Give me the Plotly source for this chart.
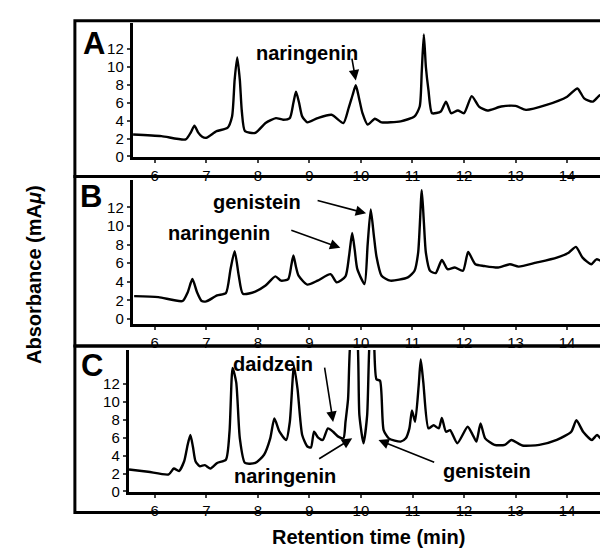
import plotly.graph_objects as go

W, H = 608, 549


def fx(x):
    return x / W


def fy(y):
    return 1 - y / H


# ---------------- data (retention time in min, absorbance in mAu) ----------------
time_a = [5.58, 6.13, 6.6, 6.7, 6.77, 6.84, 6.92, 7.0, 7.2, 7.41, 7.5, 7.55, 7.6, 7.65, 7.69,
          7.75, 7.95, 8.15, 8.35, 8.49, 8.62, 8.69, 8.74, 8.8, 8.86, 8.96, 9.16, 9.43, 9.66,
          9.76, 9.84, 9.9, 9.96, 10.03, 10.13, 10.27, 10.4, 10.77, 11.04, 11.14, 11.18, 11.22,
          11.26, 11.31, 11.38, 11.55, 11.65, 11.75, 11.88, 12.0, 12.15, 12.29, 12.45, 12.72,
          13.0, 13.2, 13.6, 14.0, 14.2, 14.33, 14.5, 14.64, 14.84]
abs_a = [2.46, 2.28, 1.91, 2.7, 3.45, 2.7, 2.2, 2.09, 2.83, 3.19, 4.48, 8.6, 11.08, 8.6, 5.0,
         2.83, 2.64, 3.74, 4.29, 4.11, 4.29, 6.0, 7.23, 6.0, 4.48, 3.82, 4.29, 4.66, 3.74,
         5.39, 6.9, 7.96, 6.6, 4.84, 3.56, 4.22, 3.82, 3.93, 4.48, 5.58, 9.5, 13.65,
         10.0, 7.41, 4.84, 5.03, 6.13, 4.84, 5.14, 4.84, 6.75, 5.58, 5.14, 5.58,
         5.65, 5.21, 5.76, 6.68, 7.6, 6.5, 6.13, 6.86, 6.6]

time_b = [5.6, 6.07, 6.54, 6.64, 6.73, 6.82, 6.91, 7.0, 7.21, 7.38, 7.47, 7.55, 7.63, 7.71,
          7.95, 8.15, 8.34, 8.45, 8.59, 8.65, 8.69, 8.74, 8.79, 8.96, 9.16, 9.41, 9.53, 9.7,
          9.77, 9.83, 9.88, 9.93, 10.07, 10.13, 10.19, 10.25, 10.3, 10.4, 10.57, 10.91, 11.04,
          11.11, 11.18, 11.22, 11.26, 11.34, 11.45, 11.57, 11.68, 11.82, 11.98, 12.08, 12.22,
          12.39, 12.66, 12.89, 13.06, 13.4, 13.8, 14.03, 14.17, 14.3, 14.47, 14.57, 14.77]
abs_b = [2.47, 2.36, 1.94, 2.89, 4.3, 2.89, 1.94, 1.9, 2.54, 2.79, 5.36, 7.3, 4.66, 2.72,
         2.96, 3.6, 4.59, 4.13, 4.3, 5.8, 6.84, 5.6, 4.66, 3.7, 4.13, 4.83, 3.95, 4.59,
         6.8, 9.24, 7.4, 5.36, 3.77, 8.0, 11.78, 9.0, 6.77, 4.66, 4.13, 4.48, 5.19,
         7.13, 13.83, 10.5, 7.13, 5.19, 4.94, 6.35, 5.36, 5.54, 5.19, 7.2, 5.89,
         5.71, 5.54, 5.89, 5.64, 6.06, 6.6, 7.13, 7.76, 6.6, 5.89, 6.42, 5.89]

time_c = [5.5, 5.87, 6.27, 6.37, 6.47, 6.57, 6.63, 6.69, 6.74, 6.79, 6.87, 6.97, 7.08, 7.21,
          7.38, 7.45, 7.51, 7.58, 7.65, 7.75, 7.95, 8.12, 8.24, 8.32, 8.42, 8.55, 8.62, 8.7,
          8.77, 8.86, 8.96, 9.03, 9.09, 9.17, 9.26, 9.36, 9.46, 9.56, 9.66, 9.7, 9.75, 9.8,
          9.87, 9.93, 9.97, 10.05, 10.12, 10.17, 10.21, 10.25, 10.3, 10.37, 10.44, 10.54,
          10.77, 10.87, 10.94, 10.99, 11.05, 11.12, 11.16, 11.21, 11.31, 11.41, 11.51,
          11.57, 11.65, 11.73, 11.87, 12.07, 12.17, 12.24, 12.32, 12.41, 12.59, 12.79,
          12.92, 13.13, 13.46, 13.8, 14.08, 14.18, 14.31, 14.48, 14.58, 14.68, 14.81]
abs_c = [2.46, 2.2, 1.91, 2.57, 2.28, 3.38, 5.0, 6.31, 5.0, 3.38, 2.83, 2.94, 2.57, 3.19,
         3.56, 6.68, 13.8, 12.2, 5.94, 3.19, 3.19, 4.11, 5.94, 8.15, 6.68, 5.76, 7.78, 14.0,
         11.45, 6.31, 5.03, 4.92, 6.68, 6.02, 5.76, 7.05, 6.68, 6.13, 5.94, 7.78, 10.35, 17.0,
         18.0, 17.0, 8.5, 5.39, 8.5, 17.0, 18.0, 17.0, 12.55, 12.37, 6.86, 5.94,
         5.58, 5.94, 7.05, 9.06, 7.78, 11.82, 14.75, 12.2, 7.05, 7.41, 7.05,
         8.22, 6.68, 6.86, 5.39, 7.23, 6.31, 5.58, 7.6, 5.94, 5.21, 5.21,
         5.76, 5.14, 5.21, 5.76, 6.68, 7.96, 6.68, 5.76, 6.31, 5.76, 5.58]

y_ticks = [0, 2, 4, 6, 8, 10, 12]
x_ticks = [6, 7, 8, 9, 10, 11, 12, 13, 14]
panel_letters = ["A", "B", "C"]

FONT = "Arial, Liberation Sans, sans-serif"

fig = go.Figure()
for i, (t, a) in enumerate([(time_a, abs_a), (time_b, abs_b), (time_c, abs_c)]):
    sfx = "" if i == 0 else str(i + 1)
    fig.add_trace(go.Scatter(x=t, y=a, mode="lines", xaxis="x" + sfx, yaxis="y" + sfx,
                             line=dict(color="black", width=2.4, shape="spline",
                                       smoothing=0.6),
                             showlegend=False, hoverinfo="skip"))

# plot-area geometry (pixels)
panels = [
    dict(x0=125, x1=606, top=15, bot=151.6, xr=[5.574, 14.89], yr=[-0.10, 14.94]),
    dict(x0=125, x1=606, top=175, bot=321, xr=[5.574, 14.89], yr=[-0.56, 14.89]),
    dict(x0=121, x1=606, top=347, bot=491, xr=[5.496, 14.89], yr=[-0.04, 15.82]),
]

layout = dict(width=W, height=H, margin=dict(l=0, r=0, t=0, b=0),
              paper_bgcolor="white", plot_bgcolor="white",
              font=dict(family=FONT, color="black", size=15))
for i, p in enumerate(panels):
    sfx = "" if i == 0 else str(i + 1)
    layout["xaxis" + sfx] = dict(
        domain=[fx(p["x0"]), fx(p["x1"])], range=p["xr"], anchor="y" + sfx,
        tickvals=x_ticks, ticks="outside", ticklen=3, tickwidth=2, showline=True,
        linewidth=3, linecolor="black", showgrid=False, zeroline=False,
        tickfont=dict(size=15, family=FONT))
    layout["yaxis" + sfx] = dict(
        domain=[fy(p["bot"]), fy(p["top"])], range=p["yr"], anchor="x" + sfx,
        tickvals=y_ticks, ticks="outside", ticklen=3, tickwidth=2, showline=True,
        linewidth=3, linecolor="black", mirror=True, showgrid=False, zeroline=False,
        tickfont=dict(size=15, family=FONT))

fig.update_layout(**layout)

# panel frames
shapes = []
for (y0, y1) in [(13, 171), (171, 343), (343, 512)]:
    shapes.append(dict(type="rect", xref="paper", yref="paper", x0=fx(67), x1=fx(612),
                       y0=fy(y1), y1=fy(y0), line=dict(color="black", width=3),
                       layer="above"))
fig.update_layout(shapes=shapes)

ann = []
# panel letters
for letter, (lx, ly) in zip(panel_letters, [(86, 36), (83, 191), (84, 363)]):
    ann.append(dict(text=letter, x=fx(lx), y=fy(ly), xref="paper", yref="paper",
                    xanchor="center", yanchor="middle", showarrow=False,
                    font=dict(size=31, family=FONT, weight="bold")))

# axis titles
ann.append(dict(text="Retention time (min)", x=fx(361), y=fy(537), xref="paper",
                yref="paper", xanchor="center", yanchor="middle", showarrow=False,
                font=dict(size=20, family=FONT, weight="bold")))
ann.append(dict(text="Absorbance (mA<i>μ</i>)", x=fx(26), y=fy(270), xref="paper",
                yref="paper", xanchor="center", yanchor="middle", textangle=-90,
                showarrow=False, font=dict(size=20, family=FONT, weight="bold")))

lbl_font = dict(size=20, family=FONT, weight="bold")


def label(text, x, y, ax_sfx):
    ann.append(dict(text=text, x=x, y=y, xref="x" + ax_sfx, yref="y" + ax_sfx,
                    xanchor="center", yanchor="middle", showarrow=False, font=lbl_font))


def arrow(x0, y0, x1, y1, ax_sfx):
    ann.append(dict(text="", x=x1, y=y1, ax=x0, ay=y0, xref="x" + ax_sfx, yref="y" + ax_sfx,
                    axref="x" + ax_sfx, ayref="y" + ax_sfx, showarrow=True, arrowhead=2,
                    arrowsize=1.3, arrowwidth=1.6, arrowcolor="black"))


label("naringenin", 8.96, 11.6, "")
arrow(9.82, 11.1, 9.9, 8.5, "")

label("genistein", 7.98, 12.6, "2")
arrow(9.13, 12.77, 10.1, 11.36, "2")
label("naringenin", 7.24, 9.24, "2")
arrow(8.62, 9.6, 9.6, 7.65, "2")

label("daidzein", 8.29, 14.2, "3")
arrow(9.29, 14.0, 9.46, 7.78, "3")
label("naringenin", 8.52, 1.72, "3")
arrow(9.16, 3.56, 9.83, 5.94, "3")
label("genistein", 12.45, 2.28, "3")
arrow(11.45, 3.19, 10.34, 5.76, "3")

fig.update_layout(annotations=ann)

fig.write_html("out.html")
